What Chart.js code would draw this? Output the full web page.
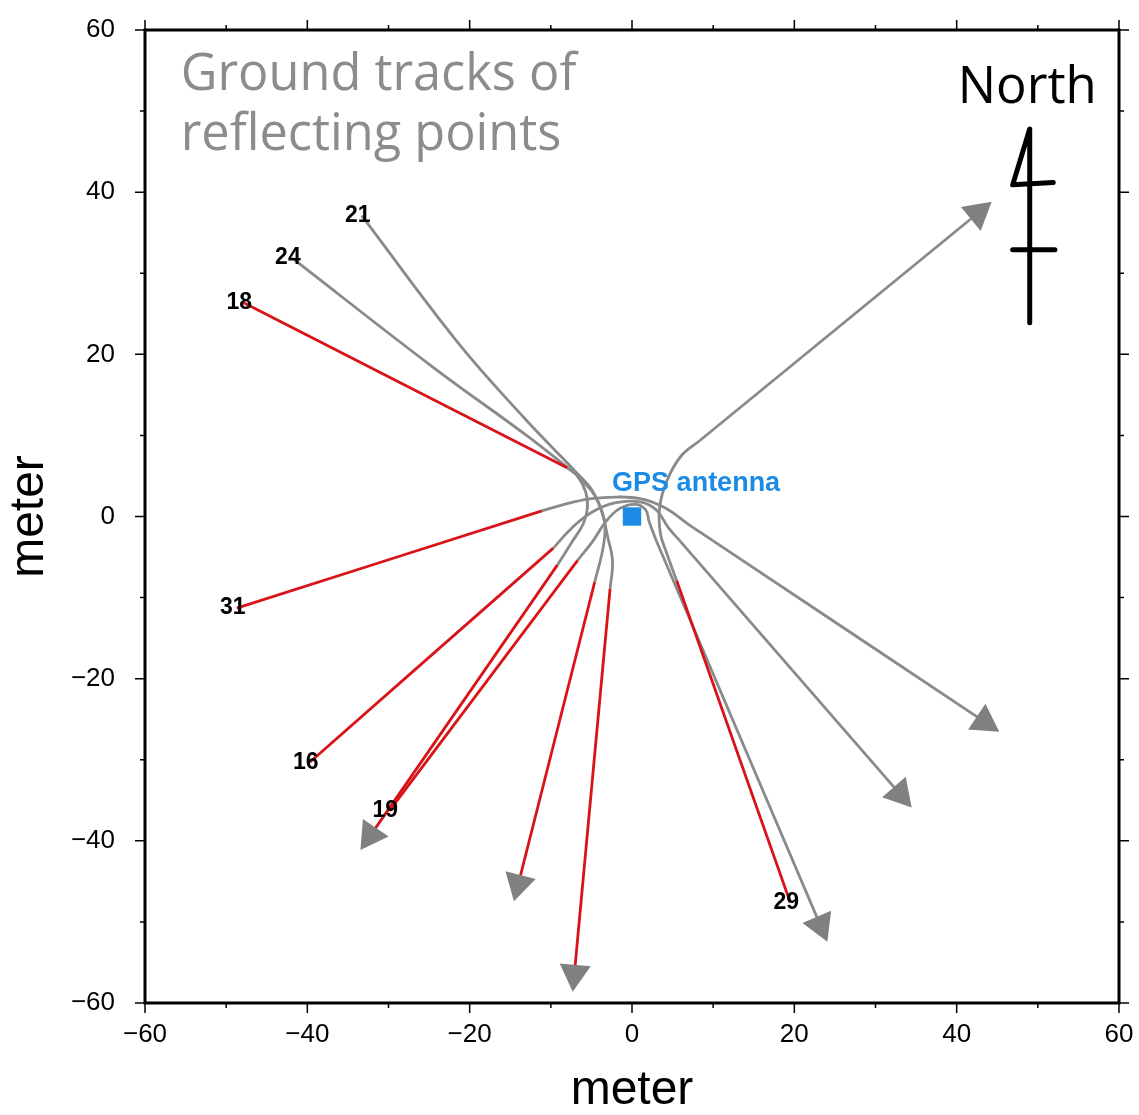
<!DOCTYPE html>
<html>
<head>
<meta charset="utf-8">
<script src="https://cdn.jsdelivr.net/npm/chart.js@4.4.0/dist/chart.umd.min.js"></script>
<style>
  body { margin: 0; background: #fff; }
  #wrap { width: 1139px; height: 1115px; }
</style>
</head>
<body>
<div id="wrap"><canvas id="chart"></canvas></div>
<script>
// satellite numbers, each track runs from its label to an arrow
const satNames = ['18', '21', '24', '31', '16', '19', '29'];

// leg coming in from the label towards the antenna (meters, east / north)
const legIn = [
  [[-47.9, 26.4], [-8.0, 6.0]],
  [[-33.3, 37.1], [-21.5, 21.5], [-13.5, 12.4], [-7.0, 5.6]],
  [[-41.9, 31.9], [-24.5, 18.4], [-13.0, 10.0], [-7.0, 5.3]],
  [[-48.7, -11.3], [-11.1, 0.7]],
  [[-39.7, -30.3], [-9.7, -3.9]],
  [[-29.9, -36.3], [-6.7, -5.4]],
  [[19.5, -47.6], [5.5, -7.9]]
];

// the bend close to the antenna
const legTurn = [
  [[-8.0, 6.0], [-6.8, 5.1], [-5.7, 3.0], [-5.5, 1.0], [-6.0, -0.9], [-7.3, -3.0], [-9.2, -6.0]],
  [[-7.0, 5.6], [-4.9, 3.2], [-3.7, 0.5], [-3.0, -2.5], [-2.4, -5.5], [-2.7, -8.9]],
  [[-7.0, 5.3], [-4.6, 2.6], [-3.4, -0.5], [-3.5, -3.5], [-4.6, -8.1]],
  [[-11.1, 0.7], [-8.0, 1.6], [-5.0, 2.2], [-2.0, 2.4], [1.0, 2.2], [4.0, 1.1], [7.0, -1.0], [10.0, -3.0]],
  [[-9.7, -3.9], [-7.5, -1.5], [-5.0, 0.5], [-2.0, 1.7], [1.0, 1.8], [3.0, 0.8], [4.5, -1.4], [5.9, -3.0]],
  [[-6.7, -5.4], [-4.8, -3.0], [-3.2, -0.6], [-1.5, 1.0], [0.5, 1.5], [1.7, 0.8], [2.1, -0.6], [3.0, -3.0]],
  [[5.5, -7.9], [4.3, -4.6], [3.5, -2.1], [3.4, 1.1], [4.3, 4.4], [6.0, 7.4], [8.4, 9.4]]
];

// leg going out to the arrow
const legOut = [
  [[-9.2, -6.0], [-32.2, -39.3]],
  [[-2.7, -8.9], [-7.1, -56.4]],
  [[-4.6, -8.1], [-14.0, -45.3]],
  [[10.0, -3.0], [43.4, -25.3]],
  [[5.9, -3.0], [33.0, -34.2]],
  [[3.0, -3.0], [23.2, -50.4]],
  [[8.4, 9.4], [42.6, 37.4]]
];

// which legs are drawn in red
const inIsRed = [true, false, false, true, true, true, true];
const outIsRed = [true, true, true, false, false, false, false];

const antenna = [0, 0];
const antennaLabelAt = [7.9, 4.1];
const titleLines = ['Ground tracks of', 'reflecting points'];
const axisTicks = [-60, 60, 10]; // min, max, step

const GRAY = '#8a8a8a';
const RED = '#d81418';

const pts = arr => arr.map(p => ({ x: p[0], y: p[1] }));

function legDataset(leg, red) {
  return {
    data: pts(leg),
    showLine: true,
    borderColor: red ? RED : GRAY,
    borderWidth: 2.8,
    tension: 0.4,
    pointRadius: 0,
    order: red ? 2 : 3
  };
}

const datasets = [];

// arrow heads at the end of each track
const arrowPts = legOut.map(l => l[l.length - 1]);
const arrowRot = legOut.map(l => {
  const a = l[l.length - 2], b = l[l.length - 1];
  return Math.atan2(b[0] - a[0], b[1] - a[1]) * 180 / Math.PI;
});
datasets.push({
  data: pts(arrowPts),
  pointStyle: 'triangle',
  rotation: arrowRot,
  pointRadius: 18,
  backgroundColor: '#808080',
  borderWidth: 0,
  order: 0
});

datasets.push({
  data: pts([antenna]),
  pointStyle: 'rect',
  pointRadius: 13,
  backgroundColor: '#1b8be6',
  borderWidth: 0,
  order: 1
});

satNames.forEach((s, i) => {
  datasets.push(legDataset(legIn[i], inIsRed[i]));
  datasets.push(legDataset(legTurn[i], false));
  datasets.push(legDataset(legOut[i], outIsRed[i]));
});

const fmt = v => (v < 0 ? '\u2212' + Math.abs(v) : String(v));

function fitFont(ctx, text, width, family, weight) {
  ctx.font = weight + ' 40px ' + family;
  const size = 40 * width / ctx.measureText(text).width;
  return weight + ' ' + size.toFixed(1) + 'px ' + family;
}

const decor = {
  id: 'decor',
  afterDatasetsDraw(chart) {
    const { ctx, chartArea: a, scales: { x, y } } = chart;
    ctx.save();

    // frame and ticks on all four sides
    ctx.strokeStyle = '#000';
    ctx.lineWidth = 3;
    ctx.strokeRect(a.left, a.top, a.right - a.left, a.bottom - a.top);
    ctx.lineWidth = 1.5;
    ctx.beginPath();
    x.ticks.forEach(t => {
      const len = t.value % 20 === 0 ? 10 : 5;
      const px = x.getPixelForValue(t.value);
      ctx.moveTo(px, a.bottom); ctx.lineTo(px, a.bottom + len);
      ctx.moveTo(px, a.top); ctx.lineTo(px, a.top - len);
    });
    y.ticks.forEach(t => {
      const len = t.value % 20 === 0 ? 10 : 5;
      const py = y.getPixelForValue(t.value);
      ctx.moveTo(a.left, py); ctx.lineTo(a.left - len, py);
      ctx.moveTo(a.right, py); ctx.lineTo(a.right + len, py);
    });
    ctx.stroke();

    // satellite numbers at the start of each track
    ctx.fillStyle = '#000';
    ctx.font = 'bold 23px "Liberation Sans", Arial, sans-serif';
    ctx.textAlign = 'center';
    ctx.textBaseline = 'middle';
    satNames.forEach((s, i) => {
      const p = legIn[i][0];
      ctx.fillText(s, x.getPixelForValue(p[0]) - 4, y.getPixelForValue(p[1]));
    });

    // antenna label
    ctx.fillStyle = '#1b8be6';
    ctx.font = 'bold 27px "Liberation Sans", Arial, sans-serif';
    ctx.fillText('GPS antenna', x.getPixelForValue(antennaLabelAt[0]), y.getPixelForValue(antennaLabelAt[1]));

    // title in the top left
    ctx.fillStyle = '#8c8c8c';
    ctx.textAlign = 'left';
    ctx.textBaseline = 'alphabetic';
    ctx.font = fitFont(ctx, titleLines[0], 396, '"Open Sans", sans-serif', 'normal');
    ctx.fillText(titleLines[0], x.getPixelForValue(-55.6), y.getPixelForValue(52.6));
    ctx.fillText(titleLines[1], x.getPixelForValue(-55.6), y.getPixelForValue(45.2));

    // north arrow
    ctx.fillStyle = '#000';
    ctx.textAlign = 'center';
    ctx.font = fitFont(ctx, 'North', 139, '"Open Sans", sans-serif', 'normal');
    ctx.fillText('North', x.getPixelForValue(48.7), y.getPixelForValue(51.0));
    const nx = v => x.getPixelForValue(v), ny = v => y.getPixelForValue(v);
    ctx.strokeStyle = '#000';
    ctx.lineWidth = 5;
    ctx.lineCap = 'round';
    ctx.lineJoin = 'round';
    ctx.beginPath();
    ctx.moveTo(nx(49.0), ny(23.9));
    ctx.lineTo(nx(49.0), ny(47.8));
    ctx.lineTo(nx(46.9), ny(40.9));
    ctx.lineTo(nx(51.9), ny(41.2));
    ctx.moveTo(nx(46.9), ny(32.9));
    ctx.lineTo(nx(52.1), ny(32.9));
    ctx.stroke();

    ctx.restore();
  }
};

const tickFont = { family: '"Liberation Sans", Arial, sans-serif', size: 26 };
const titleFont = { family: '"Liberation Sans", Arial, sans-serif', size: 48, lineHeight: 1 };

new Chart(document.getElementById('chart'), {
  type: 'scatter',
  data: { datasets: datasets },
  options: {
    responsive: true,
    maintainAspectRatio: false,
    animation: false,
    layout: { padding: { top: 30, right: 20, left: 0, bottom: 0 } },
    plugins: { legend: { display: false }, tooltip: { enabled: false } },
    scales: {
      x: {
        type: 'linear',
        min: axisTicks[0],
        max: axisTicks[1],
        grid: { display: false },
        border: { display: false },
        ticks: {
          stepSize: axisTicks[2],
          color: '#000',
          font: tickFont,
          padding: 8,
          maxRotation: 0,
          autoSkip: false,
          callback: v => (v % 20 === 0 ? fmt(v) : '')
        },
        title: { display: true, text: 'meter', color: '#000', font: titleFont, padding: 0 },
        afterFit: s => { s.height = 112; s.paddingLeft = 0; s.paddingRight = 0; }
      },
      y: {
        type: 'linear',
        min: axisTicks[0],
        max: axisTicks[1],
        grid: { display: false },
        border: { display: false },
        ticks: {
          stepSize: axisTicks[2],
          color: '#000',
          font: tickFont,
          padding: 22,
          autoSkip: false,
          callback: v => (v % 20 === 0 ? fmt(v) : '')
        },
        title: { display: true, text: 'meter', color: '#000', font: titleFont, padding: 6 },
        afterFit: s => { s.width = 145; s.paddingTop = 0; s.paddingBottom = 0; }
      }
    }
  },
  plugins: [decor]
});
</script>
</body>
</html>
